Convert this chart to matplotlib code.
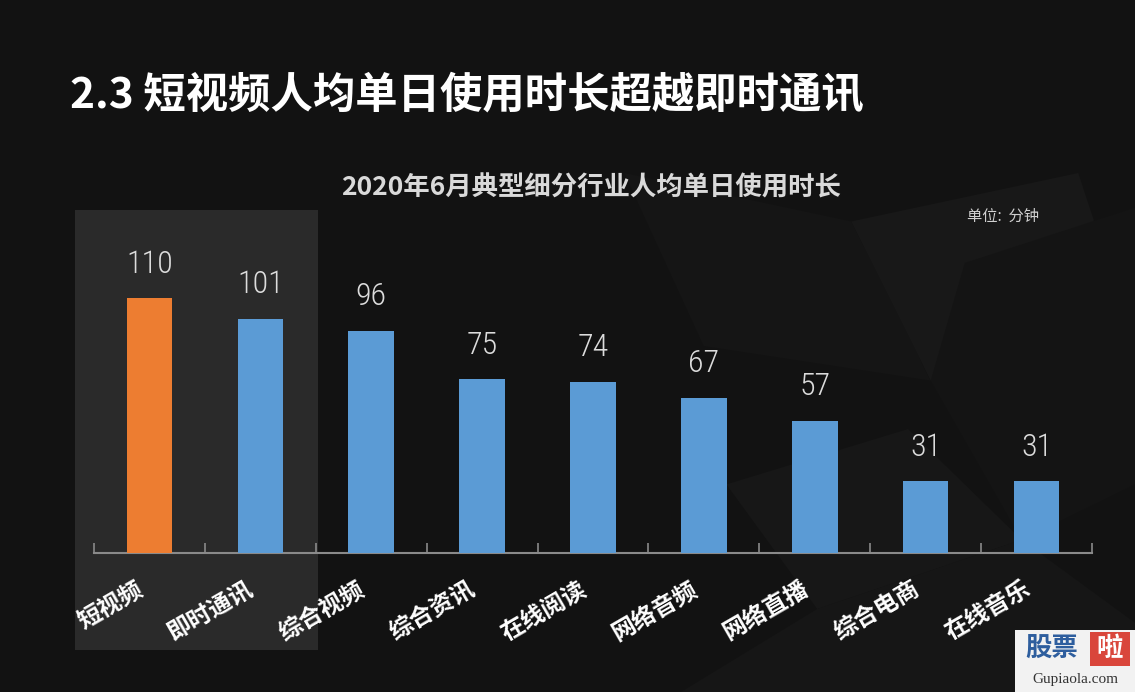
import matplotlib
matplotlib.use('Agg')
import matplotlib.pyplot as plt
from matplotlib.patches import Rectangle, Polygon
from matplotlib import font_manager

plt.rcParams['font.family'] = ['Noto Sans CJK SC', 'DejaVu Sans']

# 数据
categories = ['短视频', '即时通讯', '综合视频', '综合资讯', '在线阅读',
              '网络音频', '网络直播', '综合电商', '在线音乐']
values = [110, 101, 96, 75, 74, 67, 57, 31, 31]
title = '2.3 短视频人均单日使用时长超越即时通讯'
subtitle = '2020年6月典型细分行业人均单日使用时长'
unit = '单位:  分钟'

orange = '#ED7D31'
blue = '#5B9BD5'
bg = '#121212'

names = {f.name for f in font_manager.fontManager.ttflist}
num_family = [n for n in ['Liberation Sans Narrow', 'Roboto Condensed', 'Roboto']
              if n in names] + ['DejaVu Sans']

fig = plt.figure(figsize=(11.35, 6.92), dpi=100, facecolor=bg)

# 背景几何纹理
shapes = [
    ([(0.55, 0.75), (0.75, 0.68), (0.82, 0.45), (0.62, 0.5)], '#151515'),
    ([(0.75, 0.68), (0.95, 0.75), (1.0, 0.5), (0.82, 0.45)], '#181818'),
    ([(0.64, 0.3), (0.8, 0.38), (0.9, 0.22), (0.72, 0.12)], '#171717'),
    ([(0.85, 0.62), (1.0, 0.7), (1.0, 0.3), (0.9, 0.22), (0.82, 0.45)], '#141414'),
    ([(0.6, 0.0), (0.72, 0.12), (0.9, 0.22), (1.0, 0.1), (1.0, 0.0)], '#161616'),
]
for pts, c in shapes:
    fig.patches.append(Polygon(pts, closed=True, transform=fig.transFigure,
                               facecolor=c, edgecolor='none', zorder=0))

# 高亮区域
fig.patches.append(Rectangle((75 / 1135, 42 / 692), 243 / 1135, 440 / 692,
                             transform=fig.transFigure, facecolor='#2a2a2a',
                             edgecolor='none', zorder=1))

ax = fig.add_axes([94 / 1135, 139 / 692, 998 / 1135, 343 / 692])
ax.set_facecolor('none')
ax.set_zorder(2)

x = list(range(len(categories)))
colors = [orange] + [blue] * (len(categories) - 1)
bars = ax.bar(x, values, width=0.41, color=colors, zorder=3)

for xi, v in zip(x, values):
    ax.annotate(str(v), (xi, v), xytext=(0, 14), textcoords='offset points',
                ha='center', va='bottom', fontsize=23, color='#dcdcdc',
                family=num_family, fontweight='light')

ax.set_xlim(-0.5, len(categories) - 0.5)
ax.set_ylim(0, 148)
for s in ['top', 'right', 'left']:
    ax.spines[s].set_visible(False)
ax.spines['bottom'].set_color('#8a8a8a')
ax.spines['bottom'].set_linewidth(1.5)
ax.set_yticks([])
ax.set_xticks([i - 0.5 for i in range(len(categories) + 1)])
ax.set_xticklabels([])
ax.tick_params(axis='x', direction='in', length=7, width=1.2, color='#8a8a8a')

for xi, lab in zip(x, categories):
    ax.text(xi - 0.02, -0.07, lab, transform=ax.get_xaxis_transform(),
            rotation=30, ha='right', va='top', fontsize=17, color='white',
            fontweight='bold')

fig.text(0.411, 0.862, title, ha='center', va='center', fontsize=30.5,
         color='white', fontweight='heavy')
fig.text(0.521, 0.728, subtitle, ha='center', va='center', fontsize=19,
         color='#d9d9d9', fontweight='bold')
fig.text(0.884, 0.688, unit, ha='center', va='center', fontsize=11,
         color='#d0d0d0')

# 水印
fig.patches.append(Rectangle((1015 / 1135, 0), 120 / 1135, 62 / 692,
                             transform=fig.transFigure, facecolor='#f2f2f2',
                             edgecolor='none', zorder=4))
fig.patches.append(Rectangle((1090 / 1135, 26 / 692), 40 / 1135, 34 / 692,
                             transform=fig.transFigure, facecolor='#d9463b',
                             edgecolor='none', zorder=5))
fig.text(1052 / 1135, 43 / 692, '股票', ha='center', va='center', fontsize=19,
         color='#2e5e9e', fontweight='heavy', zorder=6)
fig.text(1110 / 1135, 43 / 692, '啦', ha='center', va='center', fontsize=19,
         color='white', fontweight='heavy', zorder=6)
fig.text(1075 / 1135, 12 / 692, 'Gupiaola.com', ha='center', va='center',
         fontsize=11, color='#333333', family=['Liberation Serif', 'DejaVu Serif'],
         zorder=6)

fig.savefig('out.png', dpi=100, facecolor=bg)
